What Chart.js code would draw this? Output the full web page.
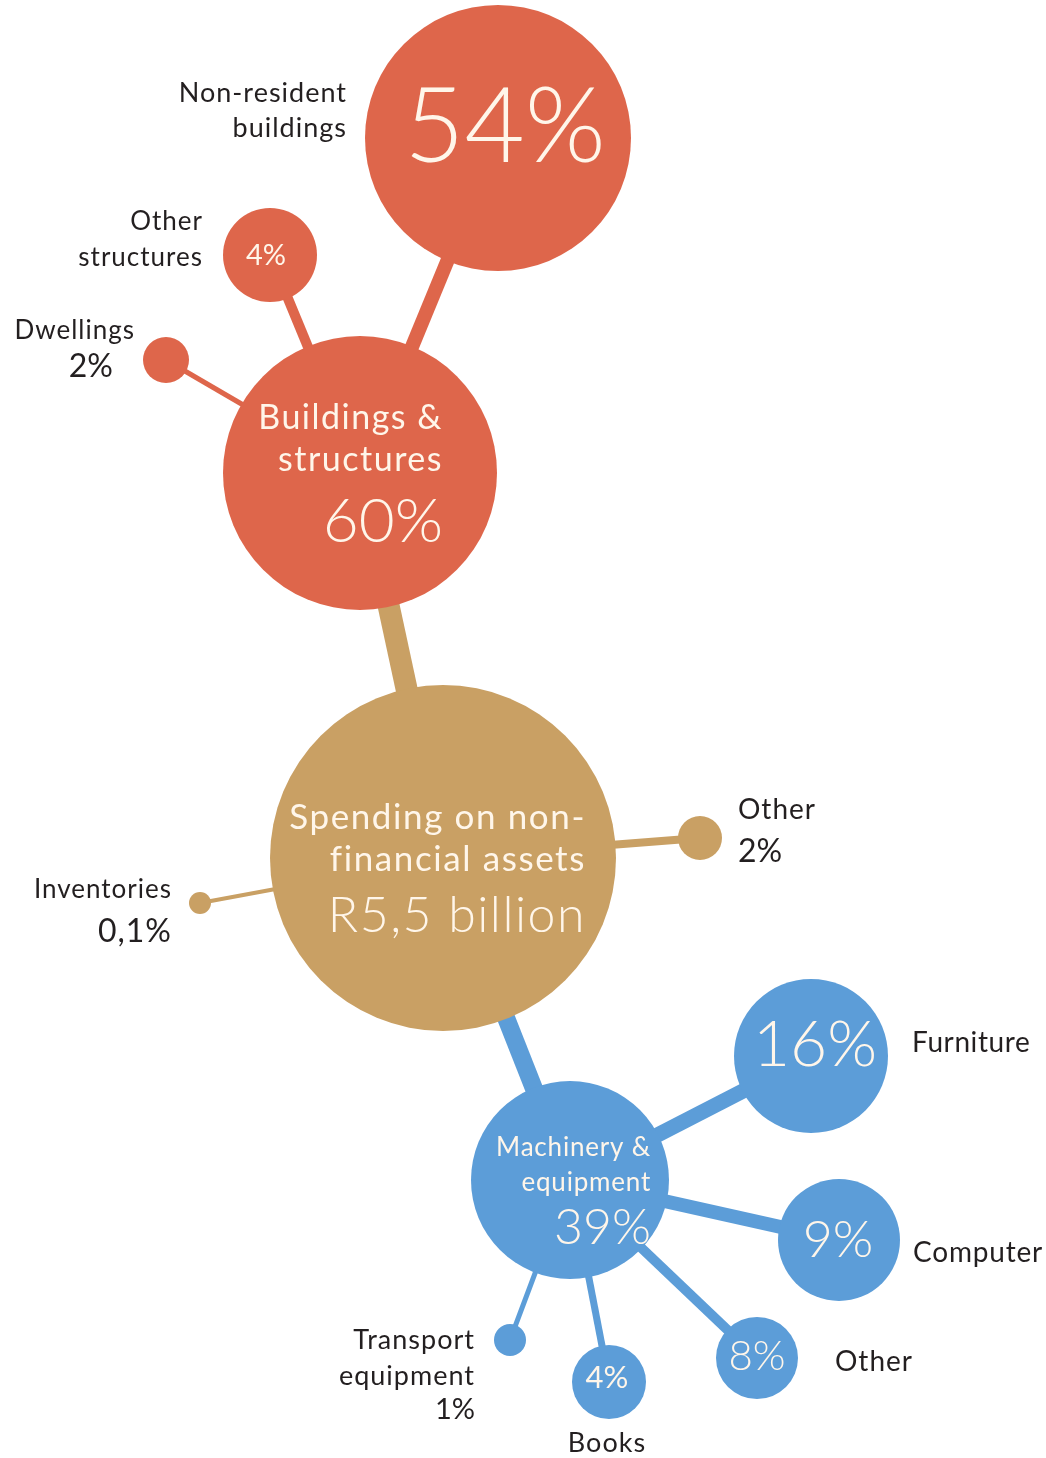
<!DOCTYPE html>
<html>
<head>
<meta charset="utf-8">
<script src="https://cdn.jsdelivr.net/npm/chart.js@4/dist/chart.umd.min.js"></script>
<style>
  html, body { margin: 0; padding: 0; background: #fff; }
  #wrap { width: 1046px; height: 1458px; }
</style>
</head>
<body>
<div id="wrap"><canvas id="assetsChart" width="1046" height="1458"></canvas></div>
<script>
// spending breakdown, each node hangs off a parent node
const categories = ['Spending on non-financial assets', 'Buildings & structures', 'Non-resident buildings',
  'Other structures', 'Dwellings', 'Other', 'Inventories', 'Machinery & equipment',
  'Furniture', 'Computer', 'Other', 'Books', 'Transport equipment'];
const shares = [100, 60, 54, 4, 2, 2, 0.1, 39, 16, 9, 8, 4, 1];
const valueLabels = ['R5,5 billion', '60%', '54%', '4%', '2%', '2%', '0,1%', '39%', '16%', '9%', '8%', '4%', '1%'];
const parents = [null, 0, 1, 1, 1, 0, 0, 0, 7, 7, 7, 7, 7];

// where the bubbles sit on the page (x, y in scale units, r in px)
const nodeX = [443, 360, 498, 270, 166, 700, 200, 570, 811, 839, 757, 609, 510];
const nodeY = [858, 473, 138, 255, 360, 838, 903, 1180, 1056, 1240, 1358, 1382, 1340];
const nodeR = [173, 137, 133, 47, 23, 22, 11, 99, 77, 61, 41, 37, 16];

const RED = '#DE664B', TAN = '#C9A064', BLUE = '#5C9DD8';
const groupColor = [TAN, RED, RED, RED, RED, TAN, TAN, BLUE, BLUE, BLUE, BLUE, BLUE, BLUE];
// stem to parent: width and colour
const stemWidth = [0, 22, 14, 10, 5, 8, 4, 18, 15, 14, 10, 7, 5];
const stemColor = [null, TAN, RED, RED, RED, TAN, TAN, BLUE, BLUE, BLUE, BLUE, BLUE, BLUE];

const INNER = '#FFF6EA', OUTER = '#231F20';
const FONT = 'Lato, "Noto Sans", sans-serif';

// text placed relative to each bubble centre
// t: text, dx/dy offset, s: size, a: align, w: weight, c: inside (true) or outside, ls: letter spacing
const textLayout = [
  [{ t: 'Spending on non-', dx: 143, dy: -40, s: 35, a: 'right', c: true, ls: 1.6 },
   { t: 'financial assets', dx: 143, dy: 2, s: 35, a: 'right', c: true, ls: 1.6 },
   { t: valueLabels[0], dx: 143, dy: 58, s: 50, a: 'right', c: true, w: 300, ls: 1.5 }],
  [{ t: 'Buildings &', dx: 83, dy: -55, s: 34, a: 'right', c: true, ls: 1.5 },
   { t: 'structures', dx: 83, dy: -13, s: 34, a: 'right', c: true, ls: 1.5 },
   { t: valueLabels[1], dx: 83, dy: 49, s: 62, a: 'right', c: true, w: 300 }],
  [{ t: valueLabels[2], dx: 7, dy: -10, s: 104, a: 'center', c: true, w: 300 },
   { t: 'Non-resident', dx: -151, dy: -45, s: 27, a: 'right', ls: 1 },
   { t: 'buildings', dx: -151, dy: -10, s: 27, a: 'right', ls: 1 }],
  [{ t: valueLabels[3], dx: -4, dy: 1, s: 29, a: 'center', c: true },
   { t: 'Other', dx: -67, dy: -33, s: 26, a: 'right', ls: 1 },
   { t: 'structures', dx: -67, dy: 3, s: 26, a: 'right', ls: 1 }],
  [{ t: 'Dwellings', dx: -31, dy: -29, s: 26, a: 'right', ls: 1 },
   { t: valueLabels[4], dx: -53, dy: 7, s: 32, a: 'right' }],
  [{ t: 'Other', dx: 38, dy: -28, s: 28, a: 'left', ls: 1 },
   { t: valueLabels[5], dx: 38, dy: 14, s: 32, a: 'left' }],
  [{ t: 'Inventories', dx: -28, dy: -13, s: 26, a: 'right', ls: 1 },
   { t: valueLabels[6], dx: -28, dy: 29, s: 32, a: 'right', ls: 1 }],
  [{ t: 'Machinery &', dx: 81, dy: -32, s: 26, a: 'right', c: true, ls: 0.8 },
   { t: 'equipment', dx: 81, dy: 3, s: 26, a: 'right', c: true, ls: 0.8 },
   { t: valueLabels[7], dx: 81, dy: 48, s: 50, a: 'right', c: true, w: 300 }],
  [{ t: valueLabels[8], dx: 4, dy: -11, s: 64, a: 'center', c: true, w: 300 },
   { t: 'Furniture', dx: 101, dy: -13, s: 28, a: 'left', ls: 0.6 },],
  [{ t: valueLabels[9], dx: -1, dy: 0, s: 52, a: 'center', c: true, w: 300 },
   { t: 'Computer', dx: 74, dy: 13, s: 28, a: 'left', ls: 0.8 }],
  [{ t: valueLabels[10], dx: 0, dy: -2, s: 42, a: 'center', c: true, w: 300 },
   { t: 'Other', dx: 78, dy: 4, s: 28, a: 'left', ls: 1 }],
  [{ t: valueLabels[11], dx: -2, dy: -4, s: 31, a: 'center', c: true },
   { t: 'Books', dx: -2, dy: 61, s: 27, a: 'center', ls: 1 }],
  [{ t: 'Transport', dx: -35, dy: 0, s: 27, a: 'right', ls: 1 },
   { t: 'equipment', dx: -35, dy: 36, s: 27, a: 'right', ls: 1 },
   { t: valueLabels[12], dx: -35, dy: 70, s: 29, a: 'right' }]
];

const bubbleData = categories.map((name, i) => ({ x: nodeX[i], y: nodeY[i], r: nodeR[i], share: shares[i] }));

// one line dataset per parent/child stem
const stemSets = [];
parents.forEach((p, i) => {
  if (p === null) return;
  stemSets.push({
    type: 'line',
    data: [{ x: nodeX[p], y: nodeY[p] }, { x: nodeX[i], y: nodeY[i] }],
    borderColor: stemColor[i],
    borderWidth: stemWidth[i],
    borderCapStyle: 'butt',
    pointRadius: 0,
    fill: false,
    order: 2
  });
});

const nodeText = {
  id: 'nodeText',
  afterDatasetsDraw(chart) {
    const ctx = chart.ctx;
    const meta = chart.getDatasetMeta(0);
    ctx.save();
    ctx.textBaseline = 'middle';
    meta.data.forEach((pt, i) => {
      textLayout[i].forEach(l => {
        ctx.font = (l.w || 400) + ' ' + l.s + 'px ' + FONT;
        ctx.letterSpacing = (l.ls || 0) + 'px';
        ctx.fillStyle = l.c ? INNER : OUTER;
        ctx.textAlign = l.a;
        ctx.fillText(l.t, pt.x + l.dx, pt.y + l.dy);
      });
    });
    ctx.restore();
  }
};

const config = {
  type: 'bubble',
  data: {
    labels: categories,
    datasets: [{
      data: bubbleData,
      backgroundColor: groupColor,
      borderWidth: 0,
      hoverRadius: 0,
      clip: false,
      order: 1
    }].concat(stemSets)
  },
  options: {
    responsive: false,
    animation: false,
    layout: { padding: 0, autoPadding: false },
    plugins: { legend: { display: false }, tooltip: { enabled: false } },
    scales: {
      x: { type: 'linear', min: 0, max: 1046, display: false },
      y: { type: 'linear', min: 0, max: 1458, reverse: true, display: false }
    }
  },
  plugins: [nodeText]
};

const assetsChart = new Chart(document.getElementById('assetsChart'), config);
</script>
</body>
</html>
